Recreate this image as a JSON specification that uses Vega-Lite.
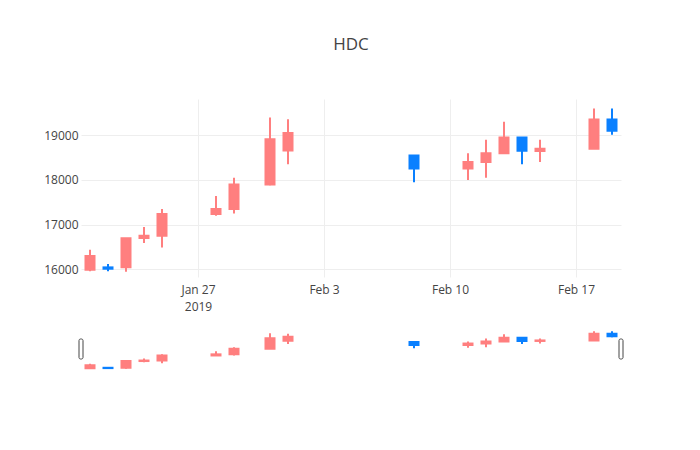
{
  "$schema": "https://vega.github.io/schema/vega-lite/v6.json",
  "background": "white",
  "padding": {"left": 43, "top": 36, "right": 0, "bottom": 0},
  "bounds": "flush",
  "spacing": 52,
  "title": {"text": "HDC", "font": "Open Sans", "fontSize": 17, "fontWeight": "normal", "color": "#444", "anchor": "middle", "frame": "group", "offset": 45},
  "config": {"view": {"stroke": null}},
  "data": {"values": [
    {"date": "2019-01-21", "open": 15990, "high": 16440, "low": 15960, "close": 16300},
    {"date": "2019-01-22", "open": 16045, "high": 16120, "low": 15960, "close": 16015},
    {"date": "2019-01-23", "open": 16050, "high": 16695, "low": 15950, "close": 16695},
    {"date": "2019-01-24", "open": 16700, "high": 16950, "low": 16590, "close": 16750},
    {"date": "2019-01-25", "open": 16750, "high": 17350, "low": 16490, "close": 17240},
    {"date": "2019-01-28", "open": 17240, "high": 17640, "low": 17200, "close": 17350},
    {"date": "2019-01-29", "open": 17350, "high": 18050, "low": 17250, "close": 17900},
    {"date": "2019-01-31", "open": 17900, "high": 19400, "low": 17880, "close": 18910},
    {"date": "2019-02-01", "open": 18660, "high": 19360, "low": 18350, "close": 19050},
    {"date": "2019-02-08", "open": 18550, "high": 18550, "low": 17950, "close": 18255},
    {"date": "2019-02-11", "open": 18255, "high": 18600, "low": 18000, "close": 18400},
    {"date": "2019-02-12", "open": 18400, "high": 18900, "low": 18050, "close": 18600},
    {"date": "2019-02-13", "open": 18600, "high": 19300, "low": 18600, "close": 18950},
    {"date": "2019-02-14", "open": 18950, "high": 18950, "low": 18350, "close": 18655},
    {"date": "2019-02-15", "open": 18650, "high": 18900, "low": 18400, "close": 18700},
    {"date": "2019-02-18", "open": 18700, "high": 19600, "low": 18700, "close": 19350},
    {"date": "2019-02-19", "open": 19350, "high": 19600, "low": 19010, "close": 19100}
  ]},
  "vconcat": [
    {
      "width": 540,
      "height": 178,
      "encoding": {
        "x": {
          "field": "date", "type": "temporal",
          "scale": {"type": "utc", "padding": 0, "domain": [
            {"year": 2019, "month": 1, "date": 20, "hours": 12, "utc": true},
            {"year": 2019, "month": 2, "date": 19, "hours": 12, "utc": true}
          ]},
          "axis": {
            "values": [
              {"year": 2019, "month": 1, "date": 27, "utc": true},
              {"year": 2019, "month": 2, "date": 3, "utc": true},
              {"year": 2019, "month": 2, "date": 10, "utc": true},
              {"year": 2019, "month": 2, "date": 17, "utc": true}
            ],
            "labelExpr": "utcFormat(datum.value, '%b %-d') == 'Jan 27' ? ['Jan 27', '2019'] : utcFormat(datum.value, '%b %-d')",
            "title": null, "grid": true, "gridColor": "#eeeeee", "domain": false, "ticks": false,
            "labelFont": "Open Sans", "labelFontSize": 12, "labelColor": "#444", "labelPadding": 7, "labelLineHeight": 17
          }
        },
        "color": {"condition": {"test": "datum.close < datum.open", "value": "#0A80FF"}, "value": "#FF7F7F"}
      },
      "layer": [
        {
          "mark": {"type": "rule", "strokeWidth": 2},
          "encoding": {
            "y": {"field": "low", "type": "quantitative",
              "scale": {"domain": [15830, 19811], "nice": false, "zero": false, "padding": 0},
              "axis": {"values": [16000, 17000, 18000, 19000], "format": "d", "title": null, "grid": true, "gridColor": "#eeeeee", "domain": false, "ticks": false,
                "labelFont": "Open Sans", "labelFontSize": 12, "labelColor": "#444", "labelPadding": 3}},
            "y2": {"field": "high"}
          }
        },
        {
          "mark": {"type": "bar", "size": 9, "strokeWidth": 2},
          "encoding": {
            "y": {"field": "open", "type": "quantitative"},
            "y2": {"field": "close"},
            "stroke": {"condition": {"test": "datum.close < datum.open", "value": "#0A80FF"}, "value": "#FF7F7F"}
          }
        }
      ]
    },
    {
      "width": 540,
      "height": 41,
      "layer": [
        {
          "mark": {"type": "rule", "strokeWidth": 2},
          "encoding": {
            "x": {"field": "date", "type": "temporal", "axis": null, "scale": {"type": "utc", "padding": 0, "domain": [
              {"year": 2019, "month": 1, "date": 20, "hours": 12, "utc": true},
              {"year": 2019, "month": 2, "date": 19, "hours": 12, "utc": true}
            ]}},
            "y": {"field": "low", "type": "quantitative", "axis": null, "scale": {"domain": [15830, 19811], "nice": false, "zero": false, "padding": 0}},
            "y2": {"field": "high"},
            "color": {"condition": {"test": "datum.close < datum.open", "value": "#0A80FF"}, "value": "#FF7F7F"}
          }
        },
        {
          "mark": {"type": "bar", "size": 9, "strokeWidth": 2},
          "encoding": {
            "x": {"field": "date", "type": "temporal"},
            "y": {"field": "open", "type": "quantitative"},
            "y2": {"field": "close"},
            "color": {"condition": {"test": "datum.close < datum.open", "value": "#0A80FF"}, "value": "#FF7F7F"},
            "stroke": {"condition": {"test": "datum.close < datum.open", "value": "#0A80FF"}, "value": "#FF7F7F"}
          }
        },
        {
          "data": {"values": [{"edge": "2019-01-20T12:00:00Z"}, {"edge": "2019-02-19T12:00:00Z"}]},
          "mark": {"type": "rect", "width": 4, "cornerRadius": 1.5, "fill": "white", "stroke": "#444", "strokeWidth": 1},
          "encoding": {
            "x": {"field": "edge", "type": "temporal"},
            "y": {"datum": 18840},
            "y2": {"datum": 16898}
          }
        }
      ]
    }
  ]
}
